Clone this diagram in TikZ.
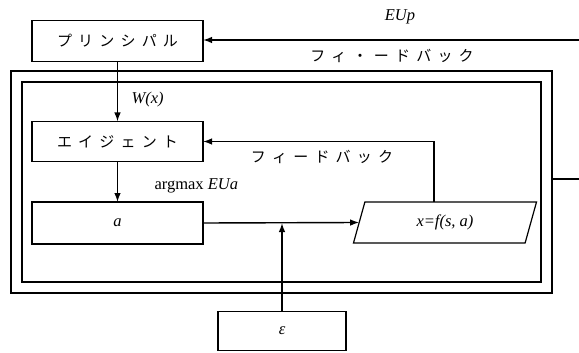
\documentclass[tikz,border=0pt]{standalone}
\usepackage{fontspec}
\setmainfont{Liberation Serif}
\newfontfamily\jp{Noto Sans CJK JP}
\usetikzlibrary{shapes.geometric,arrows.meta}
\newcommand\jg{\hskip 6.2pt\relax}
\begin{document}
\begin{tikzpicture}[x=1pt,y=-1pt,
  box/.style={draw,line width=1.2pt,inner sep=0pt,outer sep=0pt},
  frame/.style={draw,line width=1.2pt,inner sep=0pt,outer sep=0pt},
  conn/.style={line width=1.4pt},
  arr/.style={line width=1.4pt,-{Latex[length=9pt,width=6.5pt]}},
  jtext/.style={font=\jp\fontsize{15}{16}\selectfont},
  ltext/.style={font=\fontsize{16.5}{17}\selectfont}]
\useasboundingbox (0,0) rectangle (579,353);
% frames
\node[frame,minimum width=541pt,minimum height=222pt] (outer) at (281.5,182) {};
\node[frame,minimum width=519pt,minimum height=200pt] (inner) at (281.5,182) {};
% boxes
\node[box,jtext,minimum width=171pt,minimum height=41pt] (pr) at (117.5,41) {プ\jg リ\jg ン\jg シ\jg パ\jg ル};
\node[box,jtext,minimum width=171pt,minimum height=40pt] (ag) at (117.5,141.5) {エ\jg イ\jg ジ\jg ェ\jg ン\jg ト};
\node[box,ltext,minimum width=171pt,minimum height=42pt] (a) at (117.5,223) {\textit{a}};
\node[box,ltext,trapezium,trapezium left angle=75,trapezium right angle=105,trapezium stretches=true,minimum width=184pt,minimum height=41pt] (xf) at (445,222.5) {\textit{x=f(s, a)}};
\node[box,ltext,minimum width=128pt,minimum height=39pt] (eps) at (282,331) {\textit{ε}};
% labels
\node[ltext,anchor=west] (wx) at (128,100) {\textit{W(x)}};
\node[ltext,anchor=west] (am) at (151,186) {argmax \textit{EUa}};
\node[ltext] (eup) at (400,17) {\textit{EUp}};
\node[jtext] (fb1) at (392,56) {フ\jg ィ\jg ・\jg ー\jg ド\jg バ\jg ッ\jg ク};
\node[jtext] (fb2) at (322,157) {フ\jg ィ\jg ー\jg ド\jg バ\jg ッ\jg ク};
% coordinates
\coordinate (eupin) at (579,40);
\coordinate (rtout) at (579,179);
\coordinate (fbbase) at (434,202);
% connectors
\draw[arr] (eupin) -- (pr.east |- eupin);
\draw[arr] (pr.south) -- (ag.north);
\draw[arr] (ag.south) -- (a.north);
\draw[arr] (a.east) -- (xf.west);
\draw[arr] (eps.north) -- (eps.north |- a.east);
\draw[arr] (fbbase) |- (ag.east);
\draw[conn] (outer.east |- rtout) -- (rtout);
\end{tikzpicture}
\end{document}
